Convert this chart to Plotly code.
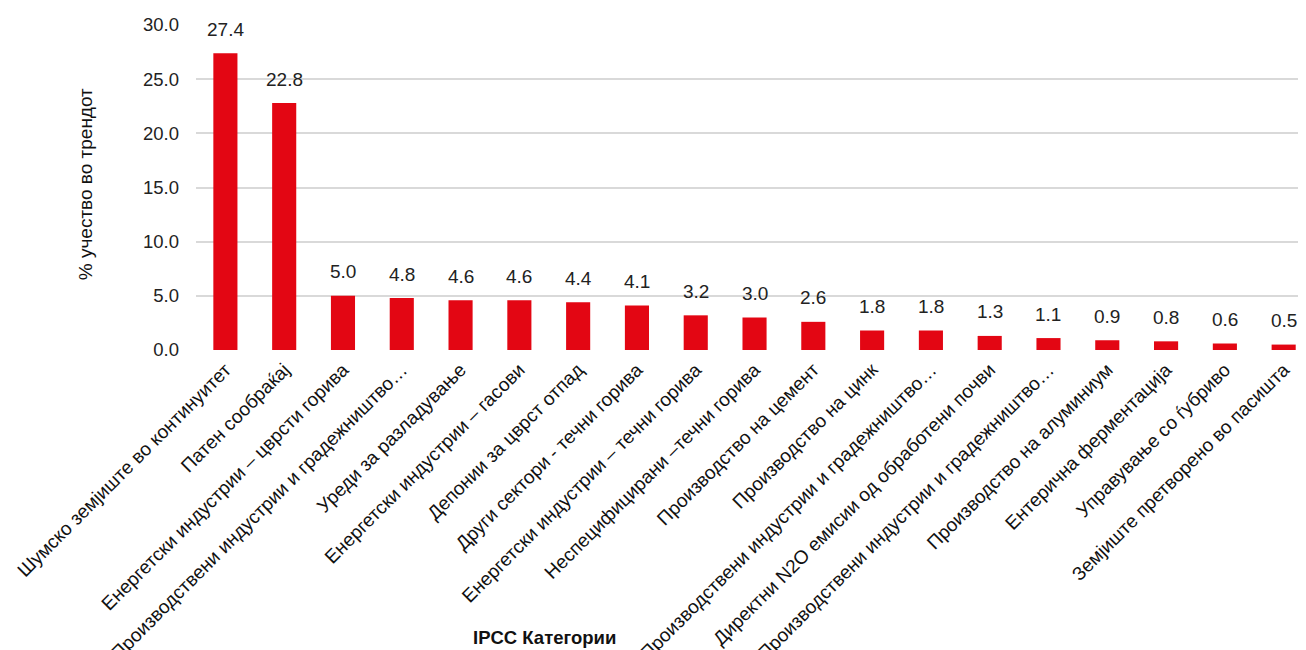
import plotly.graph_objects as go

categories = [
    "Шумско земјиште во континуитет",
    "Патен сообраќај",
    "Енергетски индустрии – цврсти горива",
    "Производствени индустрии и градежништво…",
    "Уреди за разладување",
    "Енергетски индустрии – гасови",
    "Депонии за цврст отпад",
    "Други сектори - течни горива",
    "Енергетски индустрии – течни горива",
    "Неспецифицирани –течни горива",
    "Производство на цемент",
    "Производство на цинк",
    "Производствени индустрии и градежништво…",
    "Директни N2O емисии од обработени почви",
    "Производствени индустрии и градежништво…",
    "Производство на алуминиум",
    "Ентерична ферментација",
    "Управување со ѓубриво",
    "Земјиште претворено во пасишта",
]
values = [27.4, 22.8, 5.0, 4.8, 4.6, 4.6, 4.4, 4.1, 3.2, 3.0, 2.6, 1.8, 1.8, 1.3, 1.1, 0.9, 0.8, 0.6, 0.5]
y_ticks = [0, 5, 10, 15, 20, 25, 30]

positions = list(range(len(categories)))
FONT = "Liberation Sans, Arial, sans-serif"

fig = go.Figure()
fig.add_trace(go.Bar(
    x=positions,
    y=values,
    marker=dict(color="#e30613", line=dict(width=0)),
    width=0.41,
    hoverinfo="x+y",
))

for p, v in zip(positions, values):
    fig.add_annotation(
        x=p, y=v, xref="x", yref="y",
        text=f"{v:.1f}", showarrow=False,
        yanchor="middle", yshift=24,
        font=dict(family=FONT, size=19, color="#222222"),
    )

fig.add_annotation(
    x=0.314, y=-0.886, xref="paper", yref="paper",
    text="<b>IPCC Категории</b>", showarrow=False,
    xanchor="center", yanchor="middle",
    font=dict(family=FONT, size=18.5, color="#111111"),
)
fig.add_annotation(
    x=-0.1, y=0.51, xref="paper", yref="paper",
    text="% учество во трендот", showarrow=False, textangle=-90,
    xanchor="center", yanchor="middle",
    font=dict(family=FONT, size=19, color="#111111"),
)

fig.update_layout(
    width=1298, height=642,
    margin=dict(l=188, r=0, t=17, b=300),
    paper_bgcolor="white", plot_bgcolor="white",
    showlegend=False,
    font=dict(family=FONT, color="#222222"),
    xaxis=dict(
        range=[-0.5, 18.38],
        tickmode="array", tickvals=positions, ticktext=categories,
        tickangle=-45,
        tickfont=dict(family=FONT, size=19, color="#111111"),
        showgrid=False, zeroline=False, showline=False, ticks="",
        ticklabelstandoff=4, automargin=False,
    ),
    yaxis=dict(
        range=[0, 30],
        tickmode="array", tickvals=y_ticks,
        ticktext=[f"{t:.1f}" for t in y_ticks],
        tickfont=dict(family=FONT, size=18.5, color="#222222"),
        showgrid=True, gridcolor="#d9d9d9", gridwidth=1.5,
        zeroline=False, showline=False, ticks="",
        ticklabelstandoff=16, automargin=False,
    ),
)

fig.write_html("out.html")
